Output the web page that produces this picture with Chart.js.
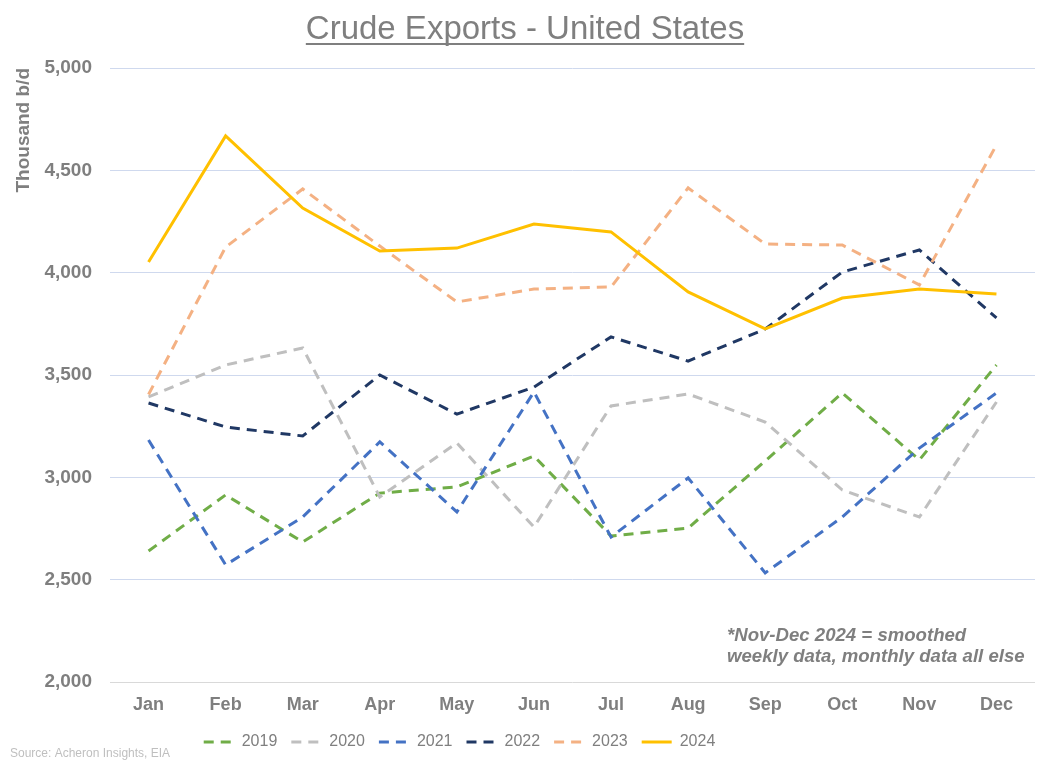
<!DOCTYPE html>
<html>
<head>
<meta charset="utf-8">
<script src="https://cdn.jsdelivr.net/npm/chart.js@4.4.1/dist/chart.umd.min.js"></script>
<style>
  html, body { margin: 0; padding: 0; background: #fff; }
</style>
</head>
<body>
<canvas id="crude" width="1056" height="764"></canvas>
<script>
const months = ['Jan', 'Feb', 'Mar', 'Apr', 'May', 'Jun', 'Jul', 'Aug', 'Sep', 'Oct', 'Nov', 'Dec'];

// thousand b/d
const exp2019 = [2640, 2914, 2684, 2923, 2953, 3104, 2713, 2752, 3080, 3412, 3085, 3549];
const exp2020 = [3393, 3549, 3632, 2904, 3168, 2757, 3349, 3407, 3270, 2938, 2806, 3368];
const exp2021 = [3182, 2572, 2806, 3173, 2831, 3417, 2708, 2997, 2533, 2806, 3143, 3412];
const exp2022 = [3363, 3246, 3202, 3500, 3309, 3441, 3686, 3568, 3725, 4003, 4111, 3779];
const exp2023 = [3405, 4125, 4409, 4130, 3857, 3920, 3930, 4414, 4140, 4135, 3940, 4624];
const exp2024 = [4052, 4668, 4316, 4106, 4120, 4238, 4199, 3906, 3725, 3876, 3920, 3896];

const yTicks = [2000, 2500, 3000, 3500, 4000, 4500, 5000];

const titleText = 'Crude Exports - United States';
const noteLines = ['*Nov-Dec 2024 = smoothed', 'weekly data, monthly data all else'];
const sourceText = 'Source: Acheron Insights, EIA';

const grey = '#7f7f7f';
const dash = [10, 7];

function series(label, data, color, dashed, order) {
    return {
        label: label,
        data: data,
        borderColor: color,
        backgroundColor: color,
        borderWidth: 3,
        borderDash: dashed ? dash : [],
        pointRadius: 0,
        pointHoverRadius: 0,
        tension: 0,
        fill: false,
        order: order
    };
}

const decor = {
    id: 'decor',
    afterLayout(chart) {
        // legend sits a bit left of centre in the original
        chart.legend.left -= 58;
        chart.legend.right -= 58;
    },
    afterDraw(chart) {
        const ctx = chart.ctx;
        ctx.save();
        ctx.fillStyle = grey;
        ctx.font = '33px "Liberation Sans", Arial, sans-serif';
        ctx.textAlign = 'center';
        ctx.textBaseline = 'alphabetic';
        ctx.fillText(titleText, 525, 39);
        const w = ctx.measureText(titleText).width;
        ctx.fillRect(525 - w / 2, 43, w, 2);

        ctx.textAlign = 'left';
        ctx.font = 'italic bold 18.6px "Liberation Sans", Arial, sans-serif';
        ctx.fillText(noteLines[0], 727, 641);
        ctx.fillText(noteLines[1], 727, 662);

        ctx.fillStyle = '#bfbfbf';
        ctx.font = '12px "Liberation Sans", Arial, sans-serif';
        ctx.fillText(sourceText, 10, 757);
        ctx.restore();
    }
};

const canvas = document.getElementById('crude');
new Chart(canvas, {
    type: 'line',
    data: {
        labels: months,
        datasets: [
            series('2019', exp2019, '#70ad47', true, 6),
            series('2020', exp2020, '#bfbfbf', true, 5),
            series('2021', exp2021, '#4472c4', true, 4),
            series('2022', exp2022, '#203864', true, 3),
            series('2023', exp2023, '#f4b183', true, 2),
            series('2024', exp2024, '#ffc000', false, 1)
        ]
    },
    options: {
        responsive: false,
        animation: false,
        events: [],
        layout: { padding: { top: 68, right: 21, bottom: 4, left: 0 } },
        plugins: {
            legend: {
                position: 'bottom',
                labels: {
                    usePointStyle: true,
                    pointStyle: 'line',
                    pointStyleWidth: 30,
                    padding: 14,
                    color: grey,
                    font: { family: '"Liberation Sans", Arial, sans-serif', size: 16 },
                    sort: (a, b) => a.datasetIndex - b.datasetIndex,
                    generateLabels(chart) {
                        const items = Chart.defaults.plugins.legend.labels.generateLabels(chart);
                        items.forEach(item => {
                            const ds = chart.data.datasets[item.datasetIndex];
                            item.lineDash = ds.borderDash;
                            item.lineWidth = 3;
                            item.strokeStyle = ds.borderColor;
                        });
                        return items;
                    }
                }
            },
            tooltip: { enabled: false }
        },
        scales: {
            x: {
                offset: true,
                grid: { display: false, drawTicks: false },
                border: { display: false },
                ticks: {
                    color: grey,
                    padding: 12,
                    font: { family: '"Liberation Sans", Arial, sans-serif', size: 18, weight: 'bold' }
                },
                afterFit(scale) { scale.height = 38; }
            },
            y: {
                min: 2000,
                max: 5000,
                afterBuildTicks(scale) { scale.ticks = yTicks.map(v => ({ value: v })); },
                grid: {
                    drawTicks: false,
                    lineWidth: 1,
                    color: ctx => ctx.tick && ctx.tick.value === 2000 ? '#d9d9d9' : '#cfd9ee'
                },
                border: { display: false },
                ticks: {
                    color: grey,
                    padding: 18,
                    font: { family: '"Liberation Sans", Arial, sans-serif', size: 19, weight: 'bold' },
                    callback: v => v.toLocaleString('en-US')
                },
                title: {
                    display: true,
                    text: 'Thousand b/d',
                    align: 'end',
                    color: grey,
                    padding: { top: 12, bottom: 0 },
                    font: { family: '"Liberation Sans", Arial, sans-serif', size: 19, weight: 'bold' }
                },
                afterFit(scale) { scale.width = 110; }
            }
        }
    },
    plugins: [decor]
});
</script>
</body>
</html>
